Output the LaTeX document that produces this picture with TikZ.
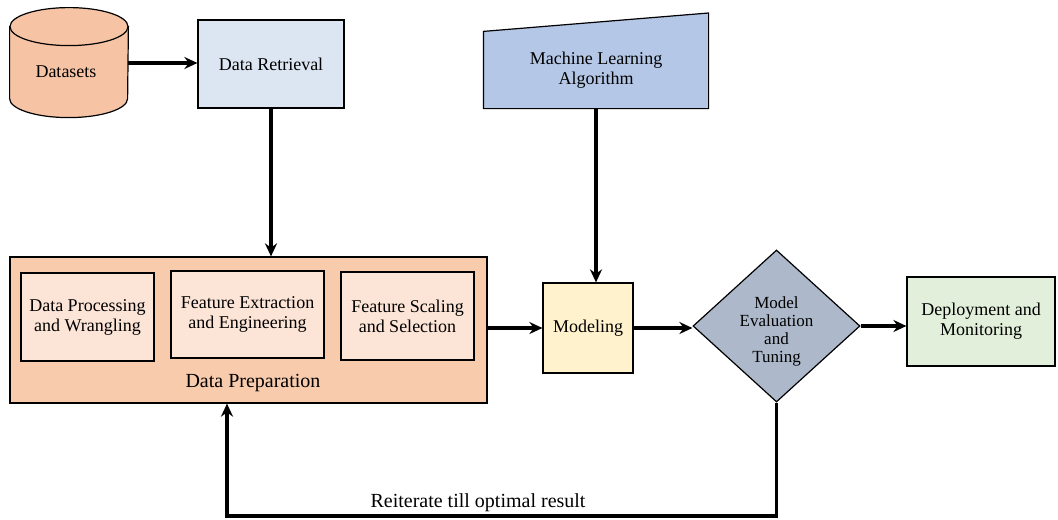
\documentclass[tikz,border=0pt]{standalone}
\usepackage{fontspec}
\setmainfont{Liberation Serif}
\usetikzlibrary{arrows.meta}
\definecolor{peach}{RGB}{246,196,164}
\definecolor{lblue}{RGB}{220,230,242}
\definecolor{mblue}{RGB}{180,199,231}
\definecolor{prepc}{RGB}{248,203,173}
\definecolor{innerc}{RGB}{252,228,214}
\definecolor{lyellow}{RGB}{255,242,204}
\definecolor{gblue}{RGB}{173,185,202}
\definecolor{lgreen}{RGB}{226,239,218}
\usetikzlibrary{shapes.geometric}
\begin{document}
\begin{tikzpicture}[x=0.5pt,y=-0.5pt,>={Stealth[length=6.5pt,width=6pt]},
  box/.style={draw,line width=0.6pt,align=center,font=\fontsize{9}{10}\selectfont,inner sep=1pt},
  flow/.style={line width=1.6pt,->}]
\useasboundingbox (0,0) rectangle (1058,519);
\node[minimum width=59pt,minimum height=55pt,inner sep=0pt] (data) at (69,63) {};
\draw[line width=0.6pt,fill=peach] ([yshift=-9.5pt]data.north west) -- ++(0,-36pt) arc[start angle=180,end angle=360,x radius=29.5pt,y radius=9.5pt] -- ([yshift=-9.5pt]data.north east) -- cycle;
\draw[line width=0.6pt,fill=peach] ([yshift=-9.5pt]data.north) ellipse[x radius=29.5pt,y radius=9.5pt];
\node[box,draw=none] (datatext) at (66,72) {Datasets};
\node[box,fill=lblue,minimum width=73pt,minimum height=44pt] (ret) at (271,64) {Data Retrieval};
\node[box,draw=none,minimum width=112pt,minimum height=38pt] (ml) at (596,70) {};
\fill[mblue] (ml.south west) -- (ml.north west) -- (ml.north east |- 0,13) -- (ml.south east) -- cycle;
\draw[line width=0.6pt] (ml.south west) -- (ml.north west) -- (ml.north east |- 0,13) -- (ml.south east) -- cycle;
\node[box,draw=none] (mltext) at (ml) {Machine Learning\\Algorithm};
\node[box,fill=prepc,minimum width=238.5pt,minimum height=73pt] (prep) at (248.5,330) {};
\node[box,fill=innerc,minimum width=66.5pt,minimum height=44pt] (proc) at (87.5,317) {Data Processing\\and Wrangling};
\node[box,fill=innerc,minimum width=76.5pt,minimum height=43.5pt] (feat) at (247.5,314.5) {Feature Extraction\\and Engineering};
\node[box,fill=innerc,minimum width=66.5pt,minimum height=44pt] (scal) at (407.5,316) {Feature Scaling\\and Selection};
\node[font=\fontsize{10}{12}\selectfont] (preplab) at (253,383) {Data Preparation};
\node[box,fill=lyellow,minimum width=45pt,minimum height=45pt] (model) at (588,328) {Modeling};
\node[box,diamond,aspect=1.1,inner sep=0pt,fill=gblue,minimum width=83.5pt,minimum height=76pt] (eval) at (776.5,326) {};
\node[align=center,font=\fontsize{8.5}{9}\selectfont] (evaltext) at (776.5,331) {Model\\Evaluation\\and\\Tuning};
\node[box,fill=lgreen,minimum width=74pt,minimum height=44.5pt] (dep) at (981,321.5) {Deployment and\\Monitoring};
\coordinate (back) at (227,516);
\draw[flow] (data.east) -- (data.east -| ret.west);
\draw[flow] (ret.south) -- (ret.south |- prep.north);
\draw[flow] (ml.south) -- (ml.south |- model.north);
\draw[flow] (prep.east |- model.west) -- (model.west);
\draw[flow] (model.east) -- (model.east -| eval.west);
\draw[flow] (eval.east) -- (eval.east -| dep.west);
\draw[flow] (eval.south) |- (back) -- (prep.south -| back);
\node[font=\fontsize{10}{12}\selectfont] (iter) at (478,503) {Reiterate till optimal result};
\end{tikzpicture}
\end{document}
